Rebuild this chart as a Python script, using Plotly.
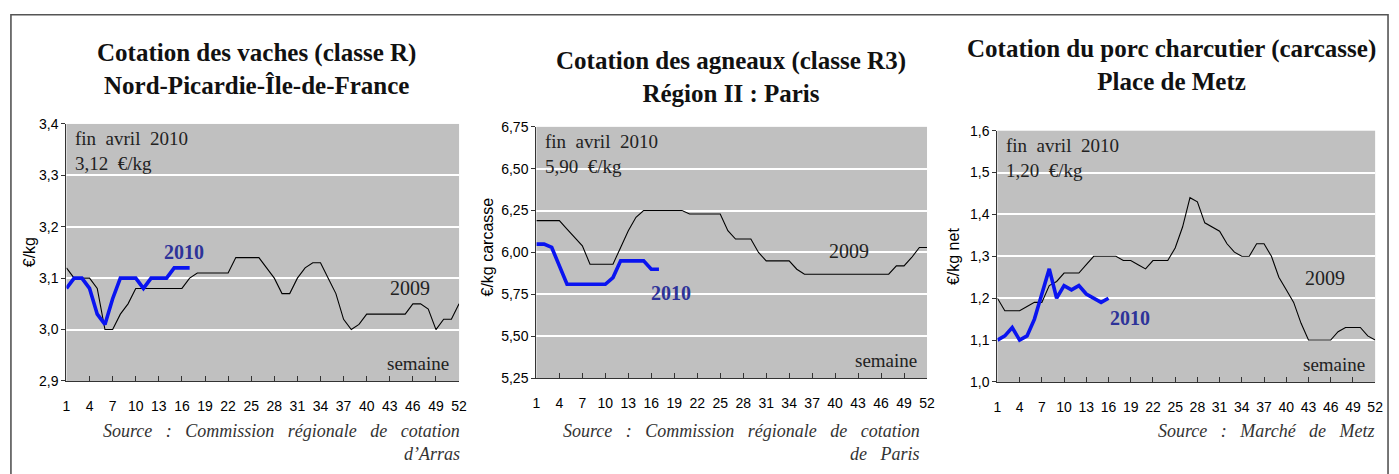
import plotly.graph_objects as go

W, H = 1399, 474

weeks = list(range(1, 53))
tick_weeks = list(range(1, 53, 3))

# Chart 1 : vaches
vaches_2009 = [3.12, 3.10, 3.10, 3.10, 3.08, 3.00, 3.00, 3.03, 3.05, 3.08,
               3.08, 3.08, 3.08, 3.08, 3.08, 3.08, 3.10, 3.11, 3.11, 3.11,
               3.11, 3.11, 3.14, 3.14, 3.14, 3.14, 3.12, 3.10, 3.07, 3.07,
               3.10, 3.12, 3.13, 3.13, 3.10, 3.07, 3.02, 3.00, 3.01, 3.03,
               3.03, 3.03, 3.03, 3.03, 3.03, 3.05, 3.05, 3.04, 3.00, 3.02,
               3.02, 3.05]
vaches_2010 = [3.08, 3.10, 3.10, 3.08, 3.03, 3.01, 3.06, 3.10, 3.10, 3.10,
               3.08, 3.10, 3.10, 3.10, 3.12, 3.12, 3.12]
vaches_ticks = [2.9, 3.0, 3.1, 3.2, 3.3, 3.4]
vaches_ticktext = ["2,9", "3,0", "3,1", "3,2", "3,3", "3,4"]

# Chart 2 : agneaux
agneaux_2009 = [6.19, 6.19, 6.19, 6.19, 6.14, 6.09, 6.04, 5.93, 5.93, 5.93,
                5.93, 6.03, 6.13, 6.21, 6.25, 6.25, 6.25, 6.25, 6.25, 6.25,
                6.23, 6.23, 6.23, 6.23, 6.23, 6.13, 6.08, 6.08, 6.08, 6.00,
                5.95, 5.95, 5.95, 5.95, 5.90, 5.87, 5.87, 5.87, 5.87, 5.87,
                5.87, 5.87, 5.87, 5.87, 5.87, 5.87, 5.87, 5.92, 5.92, 5.97,
                6.03, 6.03]
agneaux_2010 = [6.05, 6.05, 6.03, 5.92, 5.81, 5.81, 5.81, 5.81, 5.81, 5.81,
                5.85, 5.95, 5.95, 5.95, 5.95, 5.90, 5.90]
agneaux_ticks = [5.25, 5.50, 5.75, 6.00, 6.25, 6.50, 6.75]
agneaux_ticktext = ["5,25", "5,50", "5,75", "6,00", "6,25", "6,50", "6,75"]

# Chart 3 : porc
porc_2009 = [1.20, 1.17, 1.17, 1.17, 1.18, 1.19, 1.19, 1.23, 1.24, 1.26,
             1.26, 1.26, 1.28, 1.30, 1.30, 1.30, 1.30, 1.29, 1.29, 1.28,
             1.27, 1.29, 1.29, 1.29, 1.32, 1.37, 1.44, 1.43, 1.38, 1.37,
             1.36, 1.33, 1.31, 1.30, 1.30, 1.33, 1.33, 1.30, 1.25, 1.22,
             1.19, 1.14, 1.10, 1.10, 1.10, 1.10, 1.12, 1.13, 1.13, 1.13,
             1.11, 1.10]
porc_2010 = [1.10, 1.11, 1.13, 1.10, 1.11, 1.15, 1.21, 1.27, 1.20, 1.23,
             1.22, 1.23, 1.21, 1.20, 1.19, 1.20]
porc_ticks = [1.0, 1.1, 1.2, 1.3, 1.4, 1.5, 1.6]
porc_ticktext = ["1,0", "1,1", "1,2", "1,3", "1,4", "1,5", "1,6"]

titles = ["<b>Cotation des vaches (classe R)<br>Nord-Picardie-Île-de-France</b>",
          "<b>Cotation des agneaux (classe R3)<br>Région II : Paris</b>",
          "<b>Cotation du porc charcutier (carcasse)<br>Place de Metz</b>"]
ytitles = ["€/kg", "€/kg carcasse", "€/kg net"]
sp2 = "\u00a0\u00a0"
notes = ["fin" + sp2 + "avril" + sp2 + "2010<br>3,12" + sp2 + "€/kg",
         "fin" + sp2 + "avril" + sp2 + "2010<br>5,90" + sp2 + "€/kg",
         "fin" + sp2 + "avril" + sp2 + "2010<br>1,20" + sp2 + "€/kg"]

# layout helpers (pixel boxes of each plot area)
boxes = [(63, 459, 120, 386), (537, 931, 123, 383), (1002, 1383, 127, 387)]


def px(x):
    return x / W


def py(y):
    return 1 - y / H


fig = go.Figure()
series = [(vaches_2009, vaches_2010, [2.9, 3.4], vaches_ticks, vaches_ticktext),
          (agneaux_2009, agneaux_2010, [5.25, 6.75], agneaux_ticks, agneaux_ticktext),
          (porc_2009, porc_2010, [1.0, 1.6], porc_ticks, porc_ticktext)]

SERIF = "Liberation Serif"
SANS = "Liberation Sans"

for i, (s09, s10, yr, tv, tt) in enumerate(series):
    n = "" if i == 0 else str(i + 1)
    fig.add_trace(go.Scatter(x=weeks, y=s09, mode="lines",
                             line=dict(color="#000000", width=1.1),
                             xaxis="x" + n, yaxis="y" + n, showlegend=False))
    fig.add_trace(go.Scatter(x=weeks[:len(s10)], y=s10, mode="lines",
                             line=dict(color="#0a14f0", width=3.6),
                             xaxis="x" + n, yaxis="y" + n, showlegend=False))
    x0, x1, y0, y1 = boxes[i]
    fig.layout["xaxis" + n] = dict(
        domain=[px(x0), px(x1)], anchor="y" + n, range=[1, 52],
        tickvals=tick_weeks, ticks="inside", ticklen=5, tickcolor="#333",
        showline=True, linecolor="#333", linewidth=1.3, showgrid=False,
        zeroline=False, ticklabelstandoff=12,
        tickfont=dict(family=SANS, size=14, color="#000"))
    fig.layout["yaxis" + n] = dict(
        domain=[py(y1), py(y0)], anchor="x" + n, range=yr,
        tickvals=tv, ticktext=tt, ticks="outside", ticklen=4, tickcolor="#333",
        showline=True, linecolor="#333", linewidth=1.3, showgrid=True,
        gridcolor="#ffffff", gridwidth=1.6, zeroline=False,
        tickfont=dict(family=SANS, size=14, color="#000"))

layout_ann = []
# titles
title_pos = [(255, 63), (733, 71), (1178, 59)]
for (tx, ty), t in zip(title_pos, titles):
    layout_ann.append(dict(x=px(tx), y=py(ty), xref="paper", yref="paper",
                           text=t, showarrow=False, xanchor="center", yanchor="middle",
                           font=dict(family=SERIF, size=25, color="#111")))
# y-axis titles
yt_pos = [(26, 253), (488, 247), (958, 257)]
for (tx, ty), t in zip(yt_pos, ytitles):
    layout_ann.append(dict(x=px(tx), y=py(ty), xref="paper", yref="paper",
                           text=t, showarrow=False, textangle=-90,
                           xanchor="center", yanchor="middle",
                           font=dict(family=SANS, size=16, color="#000")))
# notes inside plots
for i, t in enumerate(notes):
    x0, x1, y0, y1 = boxes[i]
    layout_ann.append(dict(x=px(x0 + 7), y=py(y0 + 2), xref="paper", yref="paper",
                           text=t, showarrow=False, xanchor="left", yanchor="top",
                           align="left",
                           font=dict(family=SERIF, size=19, color="#222")))
    layout_ann.append(dict(x=px(x1 - 8), y=py(y1 - 18), xref="paper", yref="paper",
                           text="semaine", showarrow=False, xanchor="right",
                           yanchor="middle",
                           font=dict(family=SERIF, size=19, color="#222")))

lab2010 = [(182, 253), (673, 295), (1136, 321)]
lab2009 = [(410, 290), (852, 252), (1332, 279)]
for (tx, ty) in lab2010:
    layout_ann.append(dict(x=px(tx), y=py(ty), xref="paper", yref="paper",
                           text="<b>2010</b>", showarrow=False, xanchor="center",
                           yanchor="middle",
                           font=dict(family=SERIF, size=20, color="#2e3399")))
for (tx, ty) in lab2009:
    layout_ann.append(dict(x=px(tx), y=py(ty), xref="paper", yref="paper",
                           text="2009", showarrow=False, xanchor="center",
                           yanchor="middle",
                           font=dict(family=SERIF, size=20, color="#222")))

# sources
sp = "\u00a0" * 3
src = [("Source" + sp + ":" + sp + "Commission" + sp + "régionale" + sp + "de" + sp + "cotation",
        462, 438),
       ("d\u2019Arras", 462, 462),
       ("Source" + sp + ":" + sp + "Commission" + sp + "régionale" + sp + "de" + sp + "cotation",
        926, 438),
       ("de" + sp + "Paris", 926, 462),
       ("Source" + sp + ":" + sp + "Marché" + sp + "de" + sp + "Metz", 1385, 438)]
for t, tx, ty in src:
    layout_ann.append(dict(x=px(tx), y=py(ty), xref="paper", yref="paper",
                           text="<i>" + t + "</i>", showarrow=False, xanchor="right",
                           yanchor="middle",
                           font=dict(family=SERIF, size=18, color="#333")))

shapes = [dict(type="rect", xref="paper", yref="paper",
               x0=px(7), x1=px(1396), y0=-0.1, y1=py(7),
               line=dict(color="#555", width=1.6))]

fig.update_layout(width=W, height=H, margin=dict(l=0, r=0, t=0, b=0),
                  paper_bgcolor="#ffffff", plot_bgcolor="#c0c0c0",
                  annotations=layout_ann, shapes=shapes, showlegend=False)

fig.write_html("out.html",
               config={"displayModeBar": False},
               post_script="document.body.style.margin='0';"
                           "document.body.style.padding='0';"
                           "document.body.style.overflow='hidden';")
